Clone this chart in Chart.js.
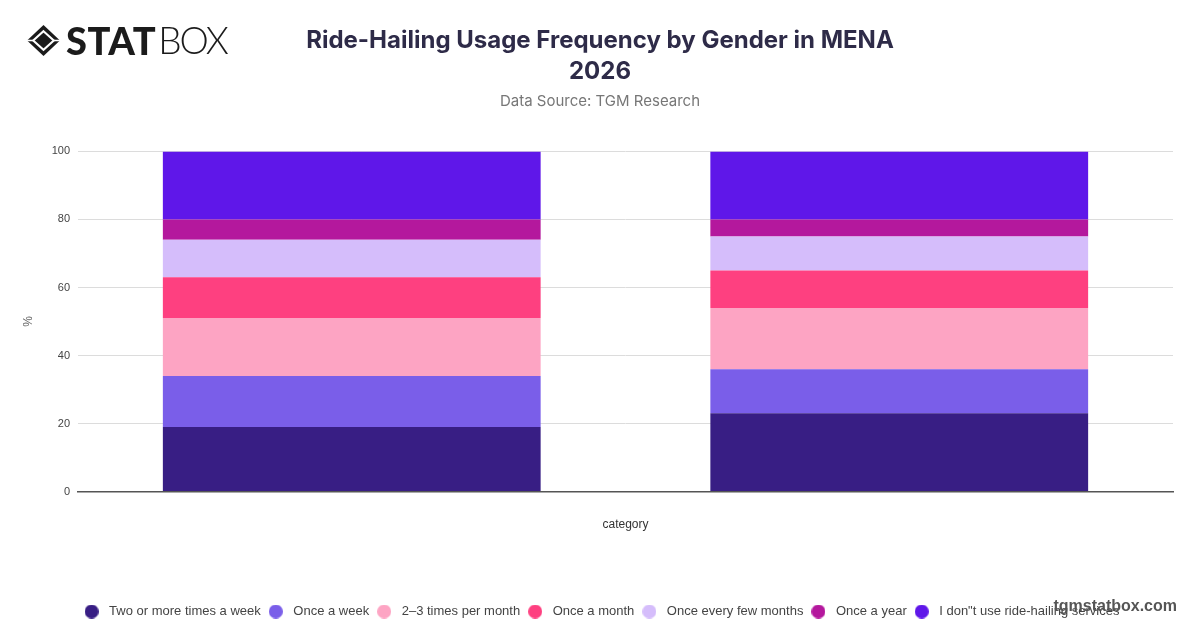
<!DOCTYPE html>
<html>
<head>
<meta charset="utf-8">
<script src="https://cdn.jsdelivr.net/npm/chart.js@4/dist/chart.umd.min.js"></script>
<style>
  html, body { margin: 0; padding: 0; background: #fff; }
  #wrap { position: relative; width: 1200px; height: 628px; }
  #logo { position: absolute; left: 26px; top: 22px; display: flex; align-items: center; }
  #logo .t1 { font-family: Lato, "DejaVu Sans", sans-serif; font-weight: 900; font-size: 38px; color: #1b1b1b; margin-left: 5px; line-height: 36px; letter-spacing: 0.5px; }
  #logo .t2 { font-family: Lato, "DejaVu Sans", sans-serif; font-weight: 300; font-size: 37px; color: #1b1b1b; line-height: 36px; letter-spacing: -2px; margin-left: 2px; }
  #wm { position: absolute; right: 23px; top: 597px; font-family: "Liberation Sans", Arial, sans-serif; font-weight: bold; font-size: 16px; color: #555; }
</style>
</head>
<body>
<div id="wrap">
  <canvas id="c" width="1200" height="628"></canvas>
  <div id="logo">
    <svg width="35" height="33" viewBox="0 0 34 32">
      <polygon points="17,1 33,16 17,31 1,16" fill="#1b1b1b"/>
      <polygon points="17,7 27,16 17,25 7,16" fill="none" stroke="#fff" stroke-width="2"/>
      <line x1="1" y1="16" x2="7" y2="16" stroke="#fff" stroke-width="1.5"/>
      <line x1="27" y1="16" x2="33" y2="16" stroke="#fff" stroke-width="1.5"/>
    </svg>
    <span class="t1">STAT</span><span class="t2">BOX</span>
  </div>
  <div id="wm">tgmstatbox.com</div>
</div>
<script>
const categories = ["Male", "Female"];
const seriesNames = [
  "Two or more times a week",
  "Once a week",
  "2\u20133 times per month",
  "Once a month",
  "Once every few months",
  "Once a year",
  "I don\"t use ride-hailing services"
];
const twoOrMore = [19, 23];
const onceWeek = [15, 13];
const twoThreeMonth = [17, 18];
const onceMonth = [12, 11];
const fewMonths = [11, 10];
const onceYear = [6, 5];
const dontUse = [20, 20];
const seriesColors = ["#381e84", "#7a5ee9", "#fda4c3", "#fe4080", "#d5bdfb", "#b4189d", "#5f17e9"];
const yTicks = [0, 20, 40, 60, 80, 100];

const seriesValues = [twoOrMore, onceWeek, twoThreeMonth, onceMonth, fewMonths, onceYear, dontUse];

function makeMarker(color) {
  const c = document.createElement('canvas');
  c.width = 14; c.height = 14;
  const g = c.getContext('2d');
  g.fillStyle = color;
  g.beginPath(); g.arc(7, 7, 7, 0, Math.PI * 2); g.fill();
  return c;
}
const markers = seriesColors.map(makeMarker);

const datasets = seriesNames.map((n, i) => ({
  label: n,
  data: seriesValues[i],
  backgroundColor: seriesColors[i],
  borderWidth: 0,
  categoryPercentage: 0.69,
  barPercentage: 1.0
}));

new Chart(document.getElementById('c'), {
  type: 'bar',
  data: { labels: categories, datasets },
  options: {
    responsive: false,
    animation: false,
    layout: { padding: { left: 3, right: 3, top: 0, bottom: 0 } },
    plugins: {
      title: {
        display: true,
        text: ["Ride-Hailing Usage Frequency by Gender in MENA", "2026"],
        color: "#2e2b48",
        font: { family: "Inter, 'Noto Sans', sans-serif", size: 24, weight: "bold", lineHeight: 1.3 },
        padding: { top: 25, bottom: 5 }
      },
      subtitle: {
        display: true,
        text: "Data Source: TGM Research",
        color: "#777",
        font: { family: "Inter, 'Noto Sans', sans-serif", size: 15, lineHeight: 1.2 },
        padding: { top: 0, bottom: 41 }
      },
      legend: {
        position: 'bottom',
        labels: {
          usePointStyle: true,
          pointStyleWidth: 22,
          boxHeight: 10,
          padding: 4,
          color: "#444",
          font: { family: "'Liberation Sans', Arial, sans-serif", size: 13 },
          generateLabels: (chart) => chart.data.datasets.map((ds, i) => ({
            text: ds.label,
            fillStyle: ds.backgroundColor,
            strokeStyle: ds.backgroundColor,
            lineWidth: 0,
            pointStyle: markers[i],
            fontColor: "#444",
            hidden: !chart.isDatasetVisible(i),
            datasetIndex: i
          }))
        }
      },
      tooltip: { enabled: false }
    },
    scales: {
      x: {
        stacked: true,
        grid: { display: false, drawTicks: false },
        border: { display: true, color: "#555", width: 1.5 },
        ticks: { display: false },
        title: {
          display: true, text: "category", color: "#333",
          font: { family: "'Liberation Sans', Arial, sans-serif", size: 12 },
          padding: { top: 26, bottom: 69 }
        }
      },
      y: {
        stacked: true,
        min: 0, max: 100,
        afterBuildTicks: (s) => { s.ticks = yTicks.map(v => ({ value: v })); },
        afterFit: (s) => { s.width = 75; },
        grid: { color: "#dcdcdc", drawTicks: false },
        border: { display: false },
        ticks: { color: "#444", padding: 8, font: { family: "'Liberation Sans', Arial, sans-serif", size: 11 } },
        title: {
          display: true, text: "%", color: "#666",
          font: { family: "'Liberation Sans', Arial, sans-serif", size: 12 },
          padding: { top: 18, bottom: 4 }
        }
      },
      yRight: {
        position: 'right',
        display: true,
        afterFit: (s) => { s.width = 24; },
        grid: { display: false, drawTicks: false },
        border: { display: false },
        ticks: { display: false }
      }
    }
  }
});
</script>
</body>
</html>
